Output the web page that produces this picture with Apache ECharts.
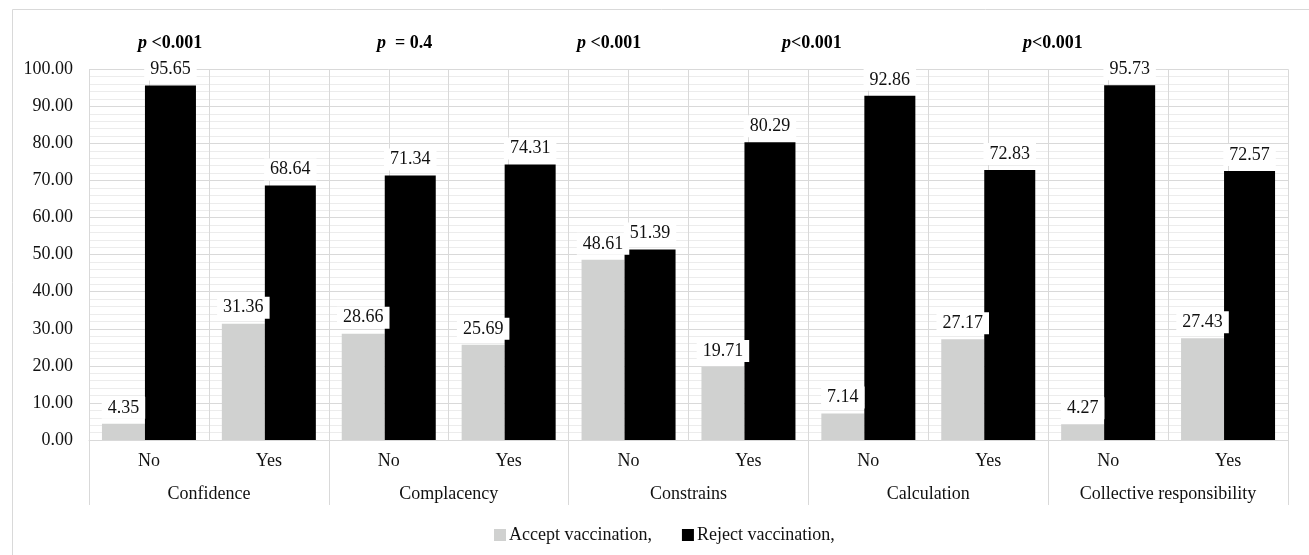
<!DOCTYPE html>
<html>
<head>
<meta charset="utf-8">
<script src="https://cdn.jsdelivr.net/npm/echarts@6/dist/echarts.min.js"></script>
<style>
  html, body { margin: 0; padding: 0; background: #fff; }
  #chart { width: 1309px; height: 555px; }
</style>
</head>
<body>
<div id="chart"></div>
<script>
// Vaccine hesitancy dimensions: answer (No / Yes) within each 5C group
const groups = ['Confidence', 'Complacency', 'Constrains', 'Calculation', 'Collective responsibility'];
const answers = ['No', 'Yes', 'No', 'Yes', 'No', 'Yes', 'No', 'Yes', 'No', 'Yes'];
const acceptValues = [4.35, 31.36, 28.66, 25.69, 48.61, 19.71, 7.14, 27.17, 4.27, 27.43];
const rejectValues = [95.65, 68.64, 71.34, 74.31, 51.39, 80.29, 92.86, 72.83, 95.73, 72.57];
const pValues = [' <0.001', '  = 0.4', ' <0.001', '<0.001', '<0.001'];
const yTicks = [0, 10, 20, 30, 40, 50, 60, 70, 80, 90, 100];

const FONT = '"Liberation Serif", "Times New Roman", serif';
const GRID = '#d9d9d9';

// Half-category slots, used only for the vertical grid lines
const halfSlots = [];
for (let i = 0; i < answers.length * 2; i++) halfSlots.push(String(i));

const chart = echarts.init(document.getElementById('chart'), null, { renderer: 'canvas' });

const labelStyle = {
  show: true,
  position: 'top',
  distance: 5,
  formatter: p => p.value.toFixed(2),
  fontFamily: FONT,
  fontSize: 18,
  color: '#111',
  backgroundColor: '#fff',
  padding: [2, 6]
};

// p-value annotations above each group
const pLeft = [138, 377, 577, 782, 1023];
const pGraphics = pValues.map((t, i) => ({
  type: 'text',
  left: pLeft[i],
  top: 34,
  style: {
    text: '{i|p}{b|' + t + '}',
    rich: {
      i: { fontFamily: FONT, fontSize: 18, fontWeight: 'bold', fontStyle: 'italic', fill: '#000' },
      b: { fontFamily: FONT, fontSize: 18, fontWeight: 'bold', fill: '#000' }
    }
  }
}));

chart.setOption({
  animation: false,
  backgroundColor: '#fff',
  textStyle: { fontFamily: FONT },
  grid: { left: 89, right: 21, top: 69.3, bottom: 115, containLabel: false },
  graphic: [
    {
      type: 'rect',
      left: 10, top: 7,
      shape: { width: 1320, height: 560 },
      style: { fill: 'none', stroke: GRID, lineWidth: 1 },
      silent: true
    }
  ].concat(pGraphics),
  legend: {
    left: 489,
    top: 521,
    itemWidth: 12,
    itemHeight: 12,
    itemGap: 30,
    icon: 'rect',
    textStyle: { fontFamily: FONT, fontSize: 18, color: '#111', padding: [0, 0, 0, -2] },
    data: ['Accept vaccination,', 'Reject vaccination,']
  },
  xAxis: [
    {
      type: 'category',
      data: answers,
      position: 'bottom',
      axisLine: { show: true, lineStyle: { color: GRID } },
      axisTick: { show: false },
      splitLine: { show: false },
      axisLabel: { fontFamily: FONT, fontSize: 18, color: '#111', margin: 12, interval: 0 }
    },
    {
      type: 'category',
      data: groups,
      position: 'bottom',
      axisLine: { show: false },
      axisTick: { show: true, length: 65, lineStyle: { color: GRID } },
      splitLine: { show: false },
      axisLabel: { fontFamily: FONT, fontSize: 18, color: '#111', margin: 45, interval: 0 }
    },
    {
      type: 'category',
      data: halfSlots,
      position: 'bottom',
      axisLine: { show: false },
      axisTick: { show: false },
      axisLabel: { show: false },
      splitLine: { show: true, interval: 0, lineStyle: { color: GRID, width: 1 } }
    }
  ],
  yAxis: {
    type: 'value',
    min: yTicks[0],
    max: yTicks[yTicks.length - 1],
    interval: 10,
    axisLine: { show: false },
    axisTick: { show: false },
    axisLabel: { fontFamily: FONT, fontSize: 18, color: '#111', margin: 16, formatter: v => v.toFixed(2) },
    splitLine: { show: true, lineStyle: { color: GRID, width: 1 } },
    minorTick: { show: false, splitNumber: 5 },
    minorSplitLine: { show: true, lineStyle: { color: '#ececec', width: 1 } }
  },
  series: [
    {
      name: 'Accept vaccination,',
      type: 'bar',
      xAxisIndex: 0,
      data: acceptValues,
      barWidth: 43,
      barGap: '0%',
      itemStyle: { color: '#d0d1d0' },
      label: labelStyle
    },
    {
      name: 'Reject vaccination,',
      type: 'bar',
      xAxisIndex: 0,
      data: rejectValues,
      barWidth: 51,
      barGap: '0%',
      itemStyle: { color: '#000' },
      label: labelStyle
    }
  ]
});
</script>
</body>
</html>
